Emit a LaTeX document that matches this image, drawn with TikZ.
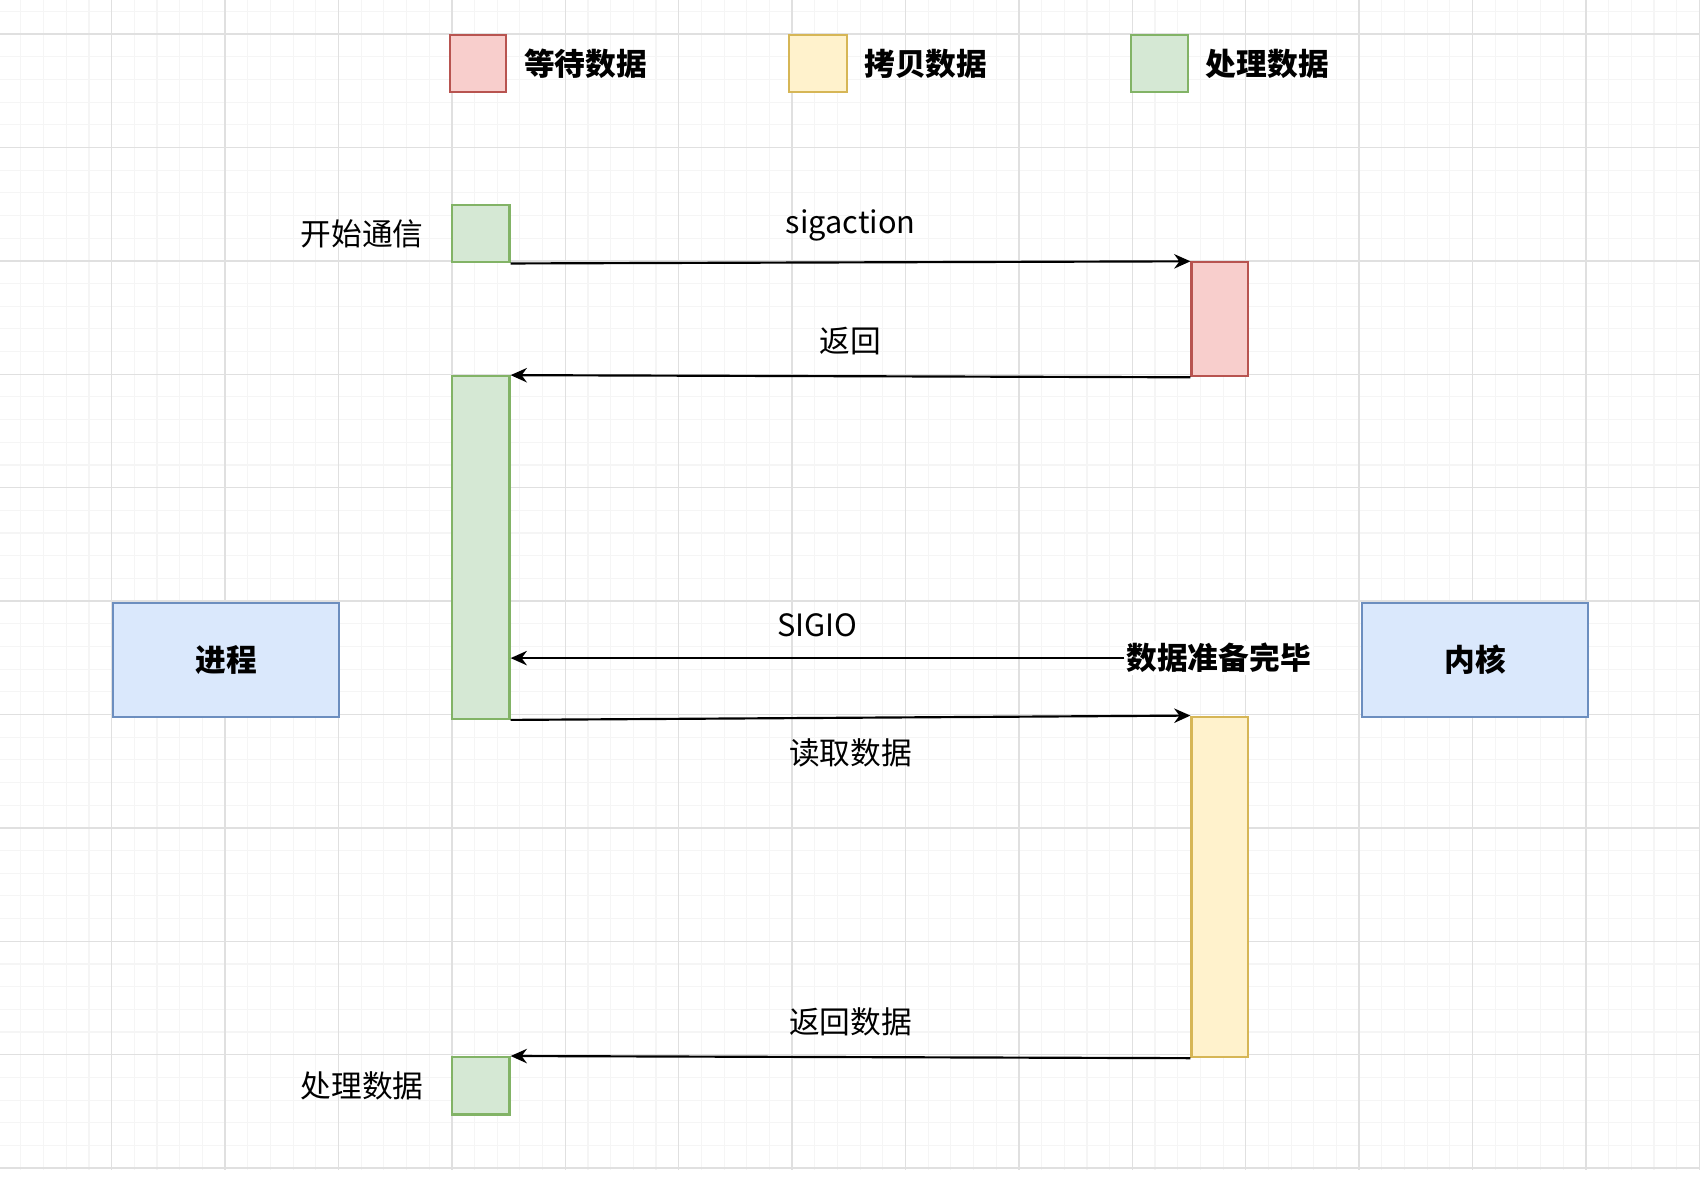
\documentclass[tikz,border=0pt]{standalone}
\usepackage{fontspec}
\setmainfont{Noto Sans CJK SC}
\usetikzlibrary{arrows.meta,positioning}
\definecolor{redF}{HTML}{F8CECC}\definecolor{redD}{HTML}{B85450}
\definecolor{yelF}{HTML}{FFF2CC}\definecolor{yelD}{HTML}{D6B656}
\definecolor{grnF}{HTML}{D5E8D4}\definecolor{grnD}{HTML}{82B366}
\definecolor{bluF}{HTML}{DAE8FC}\definecolor{bluD}{HTML}{6C8EBF}
\tikzset{
  blk/.style={draw, line width=1.2pt, inner sep=0pt, anchor=north west},
  wait/.style={blk, fill=redF, draw=redD},
  copy/.style={blk, fill=yelF, draw=yelD},
  proc/.style={blk, fill=grnF, draw=grnD},
  actor/.style={blk, fill=bluF, draw=bluD, minimum width=125.4pt, minimum height=63pt, font=\fontsize{17}{20}\selectfont\bfseries},
  lbl/.style={font=\fontsize{17}{20}\selectfont, inner sep=1pt},
  msg/.style={line width=1.2pt, -{Stealth[length=9pt,width=8pt]}}
}
\begin{document}
\begin{tikzpicture}[x=0.6pt,y=-0.6pt]
\useasboundingbox (0,0) rectangle (1568,1092);
% grid
\foreach \x in {0,...,75} \draw[black!4, line width=0.6pt] ({-1.6+20.92*\x},0) -- ({-1.6+20.92*\x},1079);
\foreach \y in {0,...,51} \draw[black!4, line width=0.6pt] (0,{31.4+20.92*(\y-1)}) -- (1568,{31.4+20.92*(\y-1)});
\foreach \x in {0,...,15} \draw[black!12, line width=0.8pt] ({-1.6+104.6*\x},0) -- ({-1.6+104.6*\x},1079);
\foreach \y in {0,...,10} \draw[black!12, line width=0.8pt] (0,{31.4+104.6*\y}) -- (1568,{31.4+104.6*\y});

% legend
\node[wait, minimum width=31.2pt, minimum height=31.8pt] (lgWait) at (414,31) {};
\node[lbl, font=\fontsize{17}{20}\selectfont\bfseries, right=8pt of lgWait] {等待数据};
\node[copy, minimum width=31.8pt, minimum height=31.8pt] (lgCopy) at (727,31) {};
\node[lbl, font=\fontsize{17}{20}\selectfont\bfseries, right=8pt of lgCopy] {拷贝数据};
\node[proc, minimum width=31.8pt, minimum height=31.8pt] (lgProc) at (1042,31) {};
\node[lbl, font=\fontsize{17}{20}\selectfont\bfseries, right=8pt of lgProc] {处理数据};

% actors
\node[actor] (user) at (103,555) {进程};
\node[actor] (kern) at (1255,555) {内核};

% activation bars
\node[proc, minimum width=31.8pt, minimum height=31.8pt] (start) at (416,188) {};
\node[wait, minimum width=31.2pt, minimum height=63pt] (wait) at (1098,241) {};
\node[proc, minimum width=31.8pt, minimum height=189.6pt] (run) at (416,346) {};
\node[copy, minimum width=31.2pt, minimum height=188.4pt] (copy) at (1098,660) {};
\node[proc, minimum width=31.8pt, minimum height=31.8pt] (done) at (416,974) {};

\node[lbl, left=14pt of start] {开始通信};
\node[lbl, left=14pt of done] {处理数据};
\node[lbl, font=\fontsize{17}{20}\selectfont\bfseries, fill=white] (ready) at (1124,607) {数据准备完毕};

% messages
\draw[msg] (start.south east) -- node[lbl, above=10pt] {sigaction} (wait.north west);
\draw[msg] (wait.south west) -- node[lbl, above=10pt] {返回} (run.north east);
\draw[msg] (ready.west) -- node[lbl, above=10pt] {SIGIO} (run.east |- ready.west);
\draw[msg] (run.south east) -- node[lbl, below=10pt] {读取数据} (copy.north west);
\draw[msg] (copy.south west) -- node[lbl, above=10pt] {返回数据} (done.north east);
\end{tikzpicture}
\end{document}
